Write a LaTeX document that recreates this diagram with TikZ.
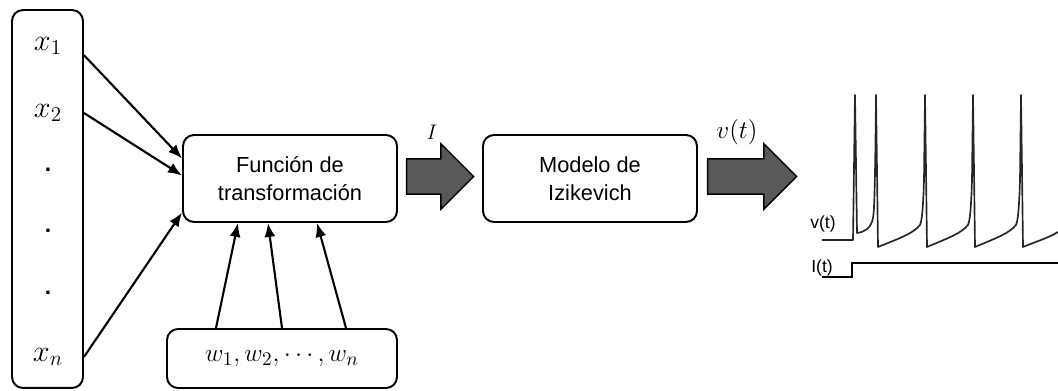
\documentclass[tikz,border=0pt]{standalone}
\usepackage{fontspec}
\setmainfont{Liberation Sans}
\usetikzlibrary{shapes.arrows,arrows.meta,calc}

\begin{document}
\begin{tikzpicture}[x=0.02cm,y=-0.02cm]
    \tikzstyle{box}=[draw=black,line width=1.1pt,rounded corners=0.22cm,align=center,font=\fontsize{12.4}{16}\selectfont]
    \tikzstyle{var}=[inner sep=0pt,font=\fontsize{17}{19}\selectfont]
    \tikzstyle{dot}=[inner sep=0pt,font=\bfseries\fontsize{13}{14}\selectfont]
    \tikzstyle{fwd}=[draw=black,line width=1.2pt,-{Latex[length=0.28cm,width=0.22cm]}]
    \tikzstyle{big}=[single arrow,draw=black,fill=black!65,line width=0.8pt,inner xsep=0pt,inner ysep=0.34cm,minimum width=1.28cm,single arrow head extend=0.3cm,anchor=tail]
    \tikzstyle{trace}=[draw=black!85,line width=0.95pt,line join=round]
    \tikzstyle{plotlbl}=[inner sep=0pt,font=\fontsize{10}{12}\selectfont]

    \useasboundingbox (0,0) rectangle (1058,391);

    % inputs
    \node[box,minimum width=1.42cm,minimum height=7.56cm] (inbox) at (47.5,199) {};
    \node[var] (x1) at (48,46) {$x_1$};
    \node[var] (x2) at (48,113) {$x_2$};
    \node[dot] (d1) at (48,170) {.};
    \node[dot] (d2) at (48,231) {.};
    \node[dot] (d3) at (48,293) {.};
    \node[var] (xn) at (48,357) {$x_n$};

    % blocks
    \node[box,minimum width=4.28cm,minimum height=1.74cm] (fun) at (290,178.5) {Función de\\transformación};
    \node[box,minimum width=4.6cm,minimum height=1.18cm,font=\fontsize{15.5}{18}\selectfont] (wts) at (282,358.5) {$w_1,w_2,\cdots,w_n$};
    \node[box,minimum width=4.28cm,minimum height=1.74cm] (izk) at (590,178.5) {Modelo de\\Izikevich};

    \node[big,minimum height=1.34cm] (ar1) at ($(fun.east)+(8,-2)$) {};
    \node[big,minimum height=1.78cm] (ar2) at ($(izk.east)+(9,-2)$) {};
    \node[var,font=\fontsize{12.5}{14}\selectfont] (lblI) at (432,132) {$I$};
    \node[var,font=\fontsize{13.5}{15}\selectfont] (lblv) at (737,132) {$v(t)$};

    % inputs -> function
    \draw[fwd] (x1.south -| inbox.east) -- ($(fun.west)+(0,-20)$);
    \draw[fwd] (x2 -| inbox.east) -- ($(fun.west)+(0,-3)$);
    \draw[fwd] (xn -| inbox.east) -- ($(fun.west)+(0,34)$);

    % weights -> function
    \draw[fwd] ($(wts.north)+(-66,0)$) -- ($(fun.south)+(-52,0)$);
    \draw[fwd] (wts.north) -- ($(fun.south)+(-22,0)$);
    \draw[fwd] ($(wts.north)+(64,0)$) -- ($(fun.south)+(27,0)$);

    % output trace
    \node[plotlbl] (vlbl) at (823,224) {v(t)};
    \node[plotlbl] (ilbl) at (822,268) {I(t)};
    \draw[trace] (822,240) -- (853,240) -- (855,95) -- (857,233)
        .. controls (865,232) and (871,228) .. (873,218) .. controls (874,212) and (875,200) .. (876,95) -- (878,247)
        \foreach \s in {925,973,1021} {
        .. controls ({\s-30},240) and ({\s-12},234) .. ({\s-5},225) .. controls ({\s-3},220) and ({\s-2},210) .. ({\s-1},180) -- (\s,95) -- ({\s+2},247)
        }
        .. controls (1035,242) and (1048,238) .. (1058,232);
    \draw[black,line width=1.1pt] (822,277) -- (852,277) -- (852,263) -- (1058,263);

\end{tikzpicture}
\end{document}
